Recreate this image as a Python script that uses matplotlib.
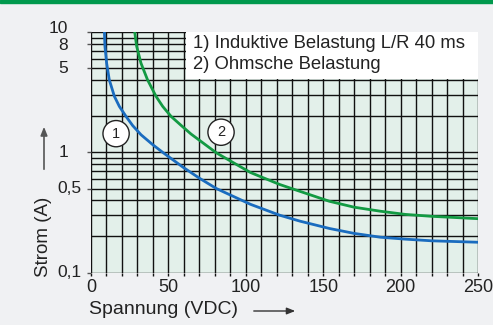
import matplotlib
matplotlib.use("Agg")
import matplotlib.pyplot as plt
from matplotlib.patches import Rectangle, FancyArrowPatch
from matplotlib.ticker import FixedLocator, NullFormatter

# curve 1: inductive load L/R 40 ms
volts_1 = [8.6, 9.0, 10.1, 11.8, 15.1, 18.3, 22.6, 26.9, 32.3, 39.8, 46.3, 59.6, 70, 81,
           103, 122, 135, 154, 170, 187, 203, 220, 250]
amps_1 = [10.5, 7.6, 5.5, 4.01, 2.92, 2.41, 1.99, 1.67, 1.40, 1.16, 1.0, 0.75, 0.61, 0.50,
          0.37, 0.30, 0.268, 0.233, 0.212, 0.197, 0.19, 0.184, 0.179]

# curve 2: resistive load
volts_2 = [28, 29.5, 32.3, 36.5, 42, 46.3, 51.7, 58.1, 64.6, 81, 92, 103, 122, 135, 154,
           170, 187, 203, 220, 250]
amps_2 = [10.5, 7.6, 5.5, 4.01, 2.92, 2.41, 1.99, 1.68, 1.42, 0.99, 0.82, 0.68, 0.54, 0.474,
          0.392, 0.35, 0.324, 0.305, 0.294, 0.281]

x_ticks = [0, 50, 100, 150, 200, 250]
y_labels = {10: "10", 8: "8", 5: "5", 1: "1", 0.5: "0,5", 0.1: "0,1"}
legend_lines = ["1) Induktive Belastung L/R 40 ms", "2) Ohmsche Belastung"]

plt.rcParams["font.family"] = ["Liberation Sans", "DejaVu Sans"]
narrow = ["Liberation Sans Narrow", "Liberation Sans", "DejaVu Sans"]

fig = plt.figure(figsize=(4.93, 3.25), dpi=100, facecolor="#f0f1f3")
ax = fig.add_axes([0.1846, 0.161, 0.785, 0.7405])
ax.set_facecolor("#e3f0ea")

# top green band
fig.patches.append(Rectangle((0, 0.99), 1, 0.01, transform=fig.transFigure,
                             color="#00994d", zorder=5))

ax.set_yscale("log")
ax.set_xlim(0, 250)
ax.set_ylim(0.1, 10)

# grid
ax.xaxis.set_major_locator(FixedLocator(list(range(0, 251, 10))))
ax.xaxis.set_major_formatter(NullFormatter())
ax.yaxis.set_major_locator(FixedLocator(list(y_labels.keys())))
ax.yaxis.set_minor_locator(FixedLocator([m * d for d in (0.1, 1) for m in range(1, 10)] + [10]))
ax.yaxis.set_major_formatter(NullFormatter())
ax.yaxis.set_minor_formatter(NullFormatter())
ax.grid(True, which="both", color="#111111", lw=1.0)
ax.set_axisbelow(True)
ax.tick_params(axis="x", length=2.5, width=1, color="#111111")
ax.tick_params(axis="y", which="major", length=3, width=1, color="#555555")
ax.tick_params(axis="y", which="minor", length=0)
for s in ax.spines.values():
    s.set_visible(False)

for v in x_ticks:
    ax.annotate(str(v), xy=(v, 0), xycoords=("data", "axes fraction"),
                xytext=(0, -11), textcoords="offset points",
                ha="center", va="center", fontsize=13, family=narrow, color="#222222")

y_nudge = {10: 2.5, 8: -1.0}
for v, lab in y_labels.items():
    off = -7 if "," in lab else -16.5
    ax.annotate(lab, xy=(0, v), xycoords=("axes fraction", "data"),
                xytext=(off, y_nudge.get(v, 0)), textcoords="offset points",
                ha="right", va="center", fontsize=12.5, family=narrow, color="#222222")

# curves
ax.plot(volts_1, amps_1, color="#1a6cbf", lw=2.0, zorder=4)
ax.plot(volts_2, amps_2, color="#139a43", lw=2.0, zorder=4)

# legend box
ax.add_patch(Rectangle((0.2455, 0.805), 0.7545, 0.195, transform=ax.transAxes,
                       facecolor="white", edgecolor="none", zorder=3))
ax.text(0.2636, 0.952, legend_lines[0], transform=ax.transAxes, fontsize=13.3,
        va="center", ha="left", color="#222222", zorder=6)
ax.text(0.2636, 0.866, legend_lines[1], transform=ax.transAxes, fontsize=13.3,
        va="center", ha="left", color="#222222", zorder=6)

# circled curve numbers
for num, xv, yv in [("1", 16.2, 1.43), ("2", 84, 1.47)]:
    ax.text(xv, yv, num, fontsize=10.5, ha="center", va="center", color="#222222", zorder=6,
            bbox=dict(boxstyle="circle,pad=0.42", facecolor="white", edgecolor="#222222", lw=1))

# axis labels with arrows
fig.text(43 / 493, 1 - 237 / 325, "Strom (A)", rotation=90, ha="center", va="center",
         fontsize=13.5, color="#222222")
fig.text(89 / 493, 1 - 309 / 325, "Spannung (VDC)", ha="left", va="center",
         fontsize=14, color="#222222")
fig.patches.append(FancyArrowPatch(
    (44 / 493, 1 - 172 / 325), (44 / 493, 1 - 124 / 325), transform=fig.transFigure,
    arrowstyle="-|>,head_length=5,head_width=2", color="#555555", lw=1.2))
fig.patches.append(FancyArrowPatch(
    (251 / 493, 1 - 311 / 325), (298 / 493, 1 - 311 / 325), transform=fig.transFigure,
    arrowstyle="-|>,head_length=5,head_width=2", color="#333333", lw=1.0))

fig.savefig("out.png", dpi=100, facecolor=fig.get_facecolor())
